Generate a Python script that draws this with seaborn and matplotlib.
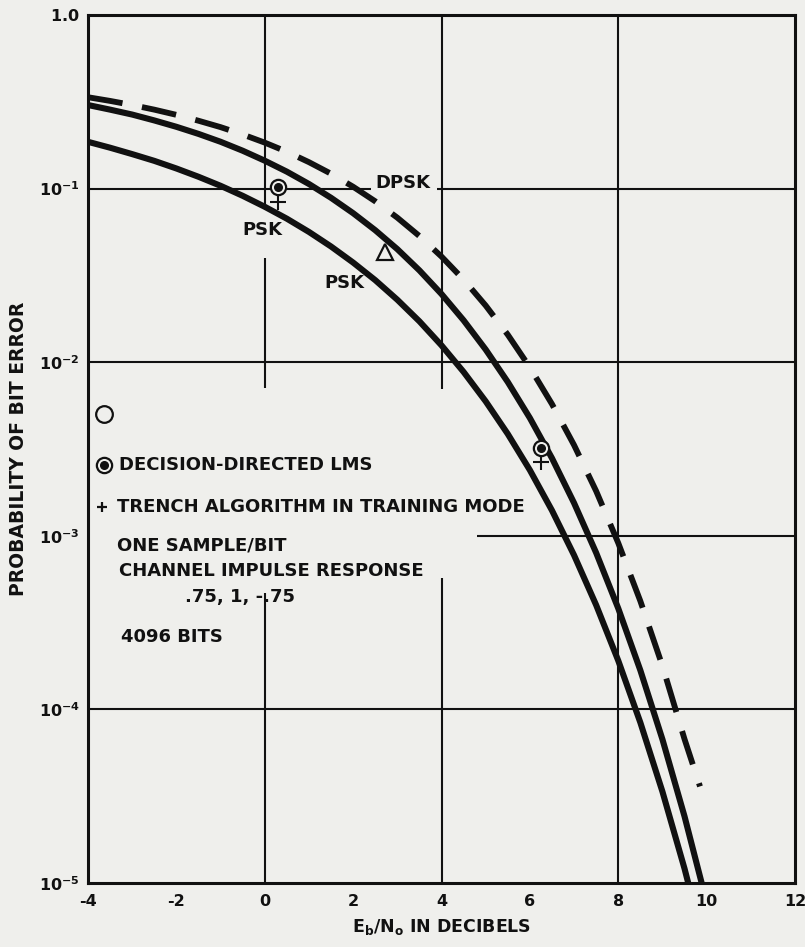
import numpy as np
import pandas as pd
import matplotlib
matplotlib.use("Agg")
import matplotlib.pyplot as plt
import seaborn as sns

# ---- data ----
ebno = [-4, -3.5, -3, -2.5, -2, -1.5, -1, -0.5, 0, 0.5, 1, 1.5, 2, 2.5, 3, 3.5,
        4, 4.5, 5, 5.5, 6, 6.5, 7, 7.5, 8, 8.5, 9, 9.5, 10]
psk_lower = [0.186, 0.172, 0.158, 0.1445, 0.1306, 0.117, 0.1038, 0.0909, 0.0786,
             0.0671, 0.0563, 0.0464, 0.0375, 0.0297, 0.0229, 0.0172, 0.0125,
             0.00879, 0.00595, 0.00386, 0.00239, 0.00140, 7.73e-4, 3.99e-4,
             1.91e-4, 8.40e-5, 3.36e-5, 1.21e-5, 3.87e-6]
psk_upper = [0.303, 0.285, 0.267, 0.247, 0.227, 0.2066, 0.1861, 0.1653, 0.1448,
             0.1252, 0.1063, 0.0885, 0.0722, 0.0576, 0.0448, 0.0338, 0.0247,
             0.01743, 0.01183, 0.00769, 0.00477, 0.00280, 1.545e-3, 7.98e-4,
             3.82e-4, 1.68e-4, 6.72e-5, 2.42e-5, 7.74e-6]
dpsk_x = [-4, -3.5, -3, -2.5, -2, -1.5, -1, -0.5, 0, 0.5, 1, 1.5, 2, 2.5, 3, 3.5,
          4, 4.5, 5, 5.5, 6, 6.5, 7, 7.5, 8, 8.5, 9, 9.5, 9.85]
dpsk = [0.336, 0.320, 0.303, 0.285, 0.266, 0.246, 0.226, 0.205, 0.184, 0.163,
        0.142, 0.1218, 0.1025, 0.0845, 0.0680, 0.0533, 0.0406, 0.0299, 0.0212,
        0.0144, 0.00933, 0.00574, 0.00333, 0.00181, 9.09e-4, 4.21e-4, 1.78e-4,
        6.74e-5, 3.6e-5]

lms_x = [0.3, 6.25]
lms_y = [0.102, 3.2e-3]
trench_x = [0.3, 6.25]
trench_y = [0.0836, 2.65e-3]
tri_x = [2.72]
tri_y = [0.043]
open_x = [-3.64]
open_y = [5.0e-3]

xticks = [-4, -2, 0, 2, 4, 6, 8, 10, 12]
yticks = [1e-5, 1e-4, 1e-3, 1e-2, 1e-1, 1.0]
ytick_labels = [r"$\mathbf{10^{-5}}$", r"$\mathbf{10^{-4}}$", r"$\mathbf{10^{-3}}$",
                r"$\mathbf{10^{-2}}$", r"$\mathbf{10^{-1}}$", r"$\mathbf{1.0}$"]

# ---- styling ----
BG = "#efefec"
INK = "#111111"
sns.set_theme(style="white")
plt.rcParams["font.family"] = ["DejaVu Sans"]
plt.rcParams["mathtext.fontset"] = "dejavusans"
plt.rcParams["axes.facecolor"] = BG
plt.rcParams["figure.facecolor"] = BG

fig = plt.figure(figsize=(8.05, 9.47), dpi=100)
ax = fig.add_axes([88 / 805, 1 - 883 / 947, (795 - 88) / 805, (883 - 15) / 947])
ax.set_yscale("log")
ax.set_xlim(-4, 12)
ax.set_ylim(1e-5, 1.0)

# grid segments (partly broken by labels as in the original)
gl = dict(color=INK, lw=1.5, zorder=1)
ax.vlines(0, 0.075, 1.0, **gl)
ax.vlines(0, 7.1e-3, 0.040, **gl)
ax.vlines(0, 1e-5, 4.7e-4, **gl)
ax.vlines(4, 7.0e-3, 1.0, **gl)
ax.vlines(4, 1e-5, 5.7e-4, **gl)
ax.vlines(8, 1e-5, 1.0, **gl)
ax.hlines(0.1, -4, 2.4, **gl)
ax.hlines(0.1, 3.9, 12, **gl)
ax.hlines(0.01, -4, 12, **gl)
ax.hlines(1e-3, 4.8, 12, **gl)
ax.hlines(1e-4, -4, 12, **gl)

df = pd.DataFrame({"x": ebno * 2,
                   "p": psk_lower + psk_upper,
                   "curve": ["PSK"] * len(ebno) + ["PSK2"] * len(ebno)})
sns.lineplot(data=df, x="x", y="p", units="curve", estimator=None, sort=False,
             color=INK, lw=4.4, ax=ax, zorder=3)
ddf = pd.DataFrame({"x": dpsk_x, "p": dpsk})
sns.lineplot(data=ddf, x="x", y="p", color=INK, lw=4.2, ax=ax, zorder=3,
             dashes=False)
dline = ax.lines[-1]
dline.set_dashes([6.0, 3.4])
dline.set_dash_capstyle("butt")

# markers
ax.plot(lms_x, lms_y, ls="none", marker="o", ms=11, mfc=BG, mec=INK, mew=1.6, zorder=5)
ax.plot(lms_x, lms_y, ls="none", marker="o", ms=5.5, mfc=INK, mec=INK, zorder=6)
ax.plot(trench_x, trench_y, ls="none", marker="+", ms=11, mec=INK, mew=1.5, zorder=4)
ax.plot(tri_x, tri_y, ls="none", marker="^", ms=12, mfc="none", mec=INK, mew=1.6, zorder=5)
ax.plot(open_x, open_y, ls="none", marker="o", ms=12, mfc="none", mec=INK, mew=1.6, zorder=5)

# legend-like annotations
ax.plot([-3.64], [2.55e-3], ls="none", marker="o", ms=11, mfc=BG, mec=INK, mew=1.6, zorder=5)
ax.plot([-3.64], [2.55e-3], ls="none", marker="o", ms=5.5, mfc=INK, mec=INK, zorder=6)
ax.plot([-3.68], [1.46e-3], ls="none", marker="+", ms=7, mec=INK, mew=1.6, zorder=5)

tk = dict(color=INK, fontweight="bold", fontsize=13, va="center", ha="left")
ax.text(-3.3, 2.55e-3, "DECISION-DIRECTED LMS", **tk)
ax.text(-3.35, 1.46e-3, "TRENCH ALGORITHM IN TRAINING MODE", **tk)
ax.text(-3.35, 8.8e-4, "ONE SAMPLE/BIT", **tk)
ax.text(-3.3, 6.3e-4, "CHANNEL IMPULSE RESPONSE", **tk)
ax.text(-1.8, 4.42e-4, ".75, 1, -.75", **tk)
ax.text(-3.25, 2.6e-4, "4096 BITS", **tk)
ax.text(2.5, 0.108, "DPSK", **tk)
ax.text(-0.5, 0.0577, "PSK", **tk)
ax.text(1.35, 0.0285, "PSK", **tk)

# ticks and labels
ax.set_xticks(xticks)
ax.set_xticklabels([str(t) for t in xticks], fontweight="bold", fontsize=11.5, color=INK)
ax.set_yticks(yticks)
ax.set_yticklabels(ytick_labels, fontsize=11.5, color=INK)
ax.yaxis.set_minor_locator(matplotlib.ticker.NullLocator())
ax.tick_params(axis="x", direction="in", length=20, width=1.5, pad=8, colors=INK)
ax.tick_params(axis="y", direction="in", length=7, width=1.5, pad=6, colors=INK)
for s in ax.spines.values():
    s.set_color(INK)
    s.set_linewidth(2.2)

ax.set_xlabel(r"E$_{\mathbf{b}}$/N$_{\mathbf{o}}$ IN DECIBELS", fontweight="bold",
              fontsize=12.5, color=INK, labelpad=6)
ax.set_ylabel("PROBABILITY OF BIT ERROR", fontweight="bold", fontsize=13.5,
              color=INK)
ax.yaxis.set_label_coords(-0.085, 0.5)

fig.savefig("out.png", dpi=100, facecolor=BG)
